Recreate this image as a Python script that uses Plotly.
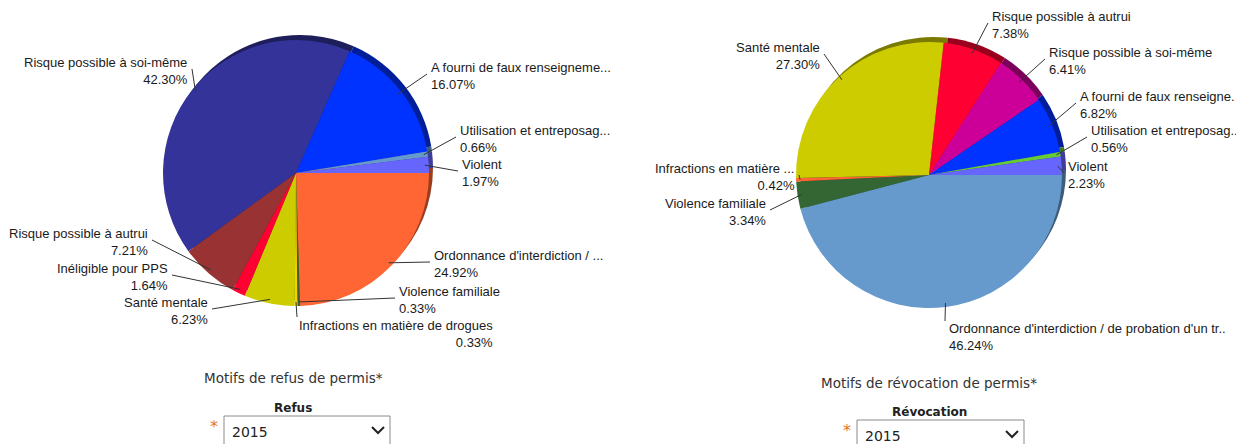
import math
import plotly.graph_objects as go

W, H = 1244, 444
OFF = 8  # default page body margin of the html page
FW, FH = W - OFF, H - OFF

# ---------------- data ----------------
refus_labels = ["Violent", "Utilisation et entreposag...", "A fourni de faux renseigneme...",
                "Risque possible à soi-même", "Risque possible à autrui", "Inéligible pour PPS",
                "Santé mentale", "Infractions en matière de drogues", "Violence familiale",
                "Ordonnance d'interdiction / ..."]
refus_values = [1.97, 0.66, 16.07, 42.30, 7.21, 1.64, 6.23, 0.33, 0.33, 24.92]

revoc_labels = ["Violent", "Utilisation et entreposag..", "A fourni de faux renseigne.",
                "Risque possible à soi-même", "Risque possible à autrui", "Santé mentale",
                "Infractions en matière ...", "Violence familiale",
                "Ordonnance d'interdiction / de probation d'un tr.."]
revoc_values = [2.23, 0.56, 6.82, 6.41, 7.38, 27.30, 0.42, 3.34, 46.24]

refus_title = "Motifs de refus de permis*"
revoc_title = "Motifs de révocation de permis*"
refus_select = "Refus"
revoc_select = "Révocation"
year = "2015"

# ---------------- styles ----------------
refus_colors = ["#6666FF", "#6699CC", "#0033FF", "#333399", "#993333", "#FF0033",
                "#CCCC00", "#FFCC00", "#336633", "#FF6633"]
revoc_colors = ["#6666FF", "#66CC33", "#0033FF", "#CC0099", "#FF0033", "#CCCC00",
                "#FF6633", "#336633", "#6699CC"]

LABEL_FONT = dict(family="Liberation Sans, Arial", size=13, color="#1a1a1a")

# label layout in pixels: (x, top_y, xanchor, align, attach_x, attach_y)
refus_lab_pos = [
    (460, 155, "left", "left", 458, 171),
    (458, 121, "left", "left", 456, 137),
    (429, 58, "left", "left", 427, 74),
    (190, 53, "right", "right", 192, 69),
    (150, 224, "right", "right", 152, 240),
    (170, 259, "right", "right", 172, 275),
    (210, 293, "right", "right", 212, 309),
    (297, 316, "left", "right", 297, 317),
    (397, 282, "left", "left", 395, 298),
    (432, 246, "left", "left", 430, 262),
]
revoc_lab_pos = [
    (1066, 157, "left", "left", 1064, 173),
    (1089, 121, "left", "left", 1087, 137),
    (1078, 87, "left", "left", 1076, 103),
    (1047, 43, "left", "left", 1045, 59),
    (990, 7, "left", "left", 988, 23),
    (822, 38, "right", "right", 824, 54),
    (797, 159, "right", "right", 799, 175),
    (768, 194, "right", "right", 770, 210),
    (947, 319, "left", "left", 945, 321),
]

# pie geometry in pixels (center x, center y, radius)
refus_geo = (296, 173, 133)
revoc_geo = (929, 175, 133)
DEPTH = (4, 5)  # px right, px up


def px(x):
    return (x - OFF) / FW


def py(y):
    return 1 - (y - OFF) / FH


def darken(hexc, f=0.6):
    r, g, b = int(hexc[1:3], 16), int(hexc[3:5], 16), int(hexc[5:7], 16)
    return "#%02x%02x%02x" % (int(r * f), int(g * f), int(b * f))


def domain(geo, dx=0, dy=0):
    cx, cy, r = geo
    cx += dx
    cy -= dy
    return dict(x=[px(cx - r), px(cx + r)], y=[py(cy + r), py(cy - r)])


fig = go.Figure()
annotations = []
shapes = []


def add_pie(labels, values, colors, geo, lab_pos):
    # slices run counterclockwise from 3 o'clock: draw them reversed, clockwise from 3 o'clock
    rl, rv, rc = labels[::-1], values[::-1], colors[::-1]
    fig.add_trace(go.Pie(labels=rl, values=rv, sort=False, direction="clockwise",
                         rotation=90, textinfo="none", hoverinfo="skip",
                         marker=dict(colors=[darken(c) for c in rc], line=dict(width=0)),
                         domain=domain(geo, *DEPTH), showlegend=False))
    fig.add_trace(go.Pie(labels=rl, values=rv, sort=False, direction="clockwise",
                         rotation=90, textinfo="none",
                         marker=dict(colors=rc, line=dict(width=0)),
                         domain=domain(geo), showlegend=False))
    cx, cy, r = geo
    total = sum(values)
    cum = 0
    for lab, v, pos in zip(labels, values, lab_pos):
        mid = 2 * math.pi * (cum + v / 2) / total
        cum += v
        ex = cx + 0.97 * r * math.cos(mid)
        ey = cy - 0.97 * r * math.sin(mid)
        x, ty, xa, al, axp, ayp = pos
        annotations.append(dict(x=px(x), y=py(ty), xref="paper", yref="paper",
                                xanchor=xa, yanchor="top", align=al, showarrow=False,
                                text=f"{lab}<br>{v:.2f}%", font=LABEL_FONT))
        shapes.append(dict(type="line", xref="paper", yref="paper",
                           x0=px(ex), y0=py(ey), x1=px(axp), y1=py(ayp),
                           line=dict(color="#333333", width=1)))


add_pie(refus_labels, refus_values, refus_colors, refus_geo, refus_lab_pos)
add_pie(revoc_labels, revoc_values, revoc_colors, revoc_geo, revoc_lab_pos)


def add_footer(title, sel, cx, title_y, sel_y, box, star, chevron):
    annotations.append(dict(x=px(cx), y=py(title_y), xref="paper", yref="paper",
                            xanchor="center", yanchor="middle", showarrow=False, text=title,
                            font=dict(family="DejaVu Sans", size=13.5, color="#333333")))
    annotations.append(dict(x=px(cx), y=py(sel_y), xref="paper", yref="paper",
                            xanchor="center", yanchor="middle", showarrow=False,
                            text=f"<b>{sel}</b>",
                            font=dict(family="DejaVu Sans", size=12, color="#222222")))
    x0, y0, x1 = box
    shapes.append(dict(type="rect", xref="paper", yref="paper", x0=px(x0), x1=px(x1),
                       y0=py(y0), y1=py(H + 10), line=dict(color="#8a8a8a", width=1),
                       fillcolor="white"))
    annotations.append(dict(x=px(x0 + 6), y=py(y0 + 16), xref="paper", yref="paper",
                            xanchor="left", yanchor="middle", showarrow=False, text=year,
                            font=dict(family="DejaVu Sans", size=14, color="#222222")))
    annotations.append(dict(x=px(star[0]), y=py(star[1]), xref="paper", yref="paper",
                            xanchor="center", yanchor="middle", showarrow=False, text="*",
                            font=dict(family="DejaVu Sans", size=16, color="#E8731E")))
    chx, chy = chevron
    shapes.append(dict(type="path", xref="paper", yref="paper",
                       path=f"M {px(chx-6)},{py(chy-3)} L {px(chx)},{py(chy+3)} L {px(chx+6)},{py(chy-3)}",
                       line=dict(color="#222222", width=2)))


add_footer(refus_title, refus_select, 293, 378, 408, (224, 416, 390), (214, 426), (378, 430))
add_footer(revoc_title, revoc_select, 929, 383, 412, (857, 420, 1024), (847, 430), (1012, 434))

fig.update_layout(width=FW, height=FH, margin=dict(l=0, r=0, t=0, b=0),
                  paper_bgcolor="white", plot_bgcolor="white",
                  annotations=annotations, shapes=shapes, showlegend=False)

fig.write_html("out.html")
